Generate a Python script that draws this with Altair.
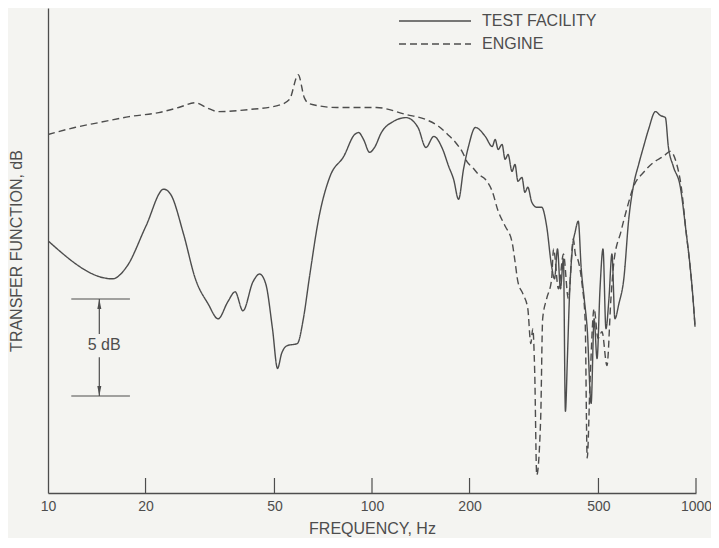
import altair as alt
import pandas as pd

# ---- data (frequency in Hz, level in dB, arbitrary zero) ----
tf_freq = [10.0, 15.8, 17.55, 20.06, 22.77, 23.9, 26.2, 28.5, 31.2, 33.5, 35.9, 37.8, 39.96, 42.9, 45.0, 47.0,
           49.3, 51.1, 52.6, 54.8, 58.8, 61.4, 64.0, 68.7, 74.2, 81.8, 88.4, 90.9, 94.2, 98.3, 101.8, 106.9,
           116.3, 127.4, 138.7, 146.7, 155.1, 165.3, 172.4, 178.6, 185.0, 191.6, 198.5, 208.5, 223.7, 235.0,
           240.0, 245.1, 252.0, 257.5, 263.0, 270.5, 276.2, 282.1, 290.2, 296.4, 302.6, 311.3, 322.4, 334.0,
           345.9, 358.3, 365.9, 373.7,
           381.6, 389.8, 395.3, 400.9, 406.6, 415.3, 424.2, 433.2, 442.4, 451.9, 461.5, 474.6, 484.7, 495.0,
           505.5, 516.4, 527.3, 538.6, 550.2, 561.9, 578.0, 598.7, 620.1, 642.3, 665.3, 689.1, 713.7, 749.8,
           776.7, 804.4, 821.5, 850.9, 893.7, 932.2, 958.7, 979.2, 993.0]
tf_db = [13.0, 11.04, 11.70, 13.76, 15.66, 15.4, 13.35, 11.04, 9.75, 8.98, 9.86, 10.37, 9.39, 10.88, 11.29, 10.78,
         8.47, 6.42, 7.19, 7.60, 7.70, 8.98, 11.04, 14.27, 16.32, 17.35, 18.48, 18.58, 18.22, 17.56, 17.81, 18.58,
         19.15, 19.35, 18.84, 17.81, 18.38, 17.71, 16.84, 16.17, 15.14, 16.68, 17.86, 18.84, 18.38, 17.86,
         18.22, 17.71, 17.97, 17.20, 17.45, 16.58, 16.94, 16.07, 16.27, 15.50, 15.76, 14.99, 14.73, 14.73,
         13.76, 11.70, 11.04, 12.58,
         10.52, 12.06, 4.21, 6.93, 10.01, 12.58, 13.50, 14.01, 11.55, 10.01, 8.47, 4.62, 8.98, 6.93,
         10.52, 12.58, 8.47, 10.01, 12.32, 8.98, 9.75, 11.04, 14.12, 15.91, 16.94, 17.86, 18.74, 19.66,
         19.46, 19.35, 17.86, 16.84, 15.81, 13.45, 11.70, 10.01, 8.57]

eng_freq = [10.0, 12.09, 14.41, 17.8, 21.98, 25.3, 28.5, 30.8, 33.5, 41.4,
            51.1, 55.6, 59.2, 61.8, 64.0, 77.9, 103.2, 127.4, 146.7, 160.8,
            171.3, 181.1, 190.3, 197.1, 204.2, 213.0, 223.7, 235.0, 245.1, 257.5,
            270.5, 276.2, 282.1, 292.2, 302.6, 309.1, 313.5, 317.9, 322.4, 331.6,
            336.3, 345.9, 358.3, 363.4, 376.3, 389.8, 403.7, 418.2, 424.2, 433.2, 445.6,
            455.0, 461.5, 471.3, 484.7, 498.5, 512.8, 531.1, 546.3, 557.9, 586.1,
            611.3, 642.3, 689.1, 739.3, 793.0, 833.0, 868.9, 900.0, 932.2, 958.7,
            979.2, 993.0]
eng_db = [18.48, 18.84, 19.10, 19.40, 19.61, 19.87, 20.12, 19.87, 19.66, 19.76,
          19.97, 20.28, 21.56, 20.38, 20.07, 19.87, 19.87, 19.51, 19.25, 18.89,
          18.48, 18.07, 17.56, 17.04, 16.79, 16.43, 16.17, 15.55, 14.53, 13.76,
          12.94, 11.96, 10.88, 10.27, 9.50, 7.70, 8.47, 6.16, 0.92, 3.85,
          8.98, 10.01, 11.00, 12.58, 10.52, 12.32, 10.01, 13.09, 12.32, 11.96, 10.68,
          8.83, 1.80, 5.90, 9.50, 7.96, 8.32, 6.57, 10.01, 11.91, 13.45,
          14.63, 15.81, 16.53, 17.04, 17.35, 17.61, 17.04, 15.81, 13.45, 11.70,
          10.01, 8.62]

series_names = ["TEST FACILITY", "ENGINE"]
x_ticks = [10, 20, 50, 100, 200, 500, 1000]

# 5 dB scale bar annotation
bar_f_left, bar_f_right, bar_f_arrow, bar_f_text = 11.8, 17.9, 14.4, 14.9
bar_db_low, bar_db_high = 5.0, 10.0
bar_shaft_top_end, bar_shaft_low_end = 8.2, 7.0
bar_text_db = 7.65
bar_label = "5 dB"

INK = "#4d4d4d"
FONT = "Liberation Sans"
W, H = 648, 485

df = pd.concat([
    pd.DataFrame({"freq": tf_freq, "db": tf_db, "series": series_names[0]}),
    pd.DataFrame({"freq": eng_freq, "db": eng_db, "series": series_names[1]}),
])

xscale = alt.Scale(type="log", domain=[10, 1000], nice=False)
yscale = alt.Scale(domain=[0, 25], nice=False, zero=False)

lines = alt.Chart(df).mark_line(strokeWidth=1.4, color=INK, clip=True, interpolate="monotone").encode(
    x=alt.X("freq:Q", scale=xscale,
            axis=alt.Axis(values=x_ticks, format="d", ticks=False, grid=False, title="FREQUENCY, Hz",
                          labelFontSize=14, titleFontSize=16, labelPadding=6, titlePadding=7,
                          labelFlush=False, labelOverlap=False)),
    y=alt.Y("db:Q", scale=yscale,
            axis=alt.Axis(labels=False, ticks=False, grid=False, title="TRANSFER FUNCTION, dB",
                          titleFontSize=16, titlePadding=24)),
    strokeDash=alt.StrokeDash("series:N",
                              scale=alt.Scale(domain=series_names, range=[[1, 0], [7, 4]]),
                              legend=alt.Legend(title=None, orient="none", legendX=374, legendY=0,
                                                symbolType="M-3,0L3,0", symbolSize=576,
                                                symbolStrokeWidth=1.3, symbolStrokeColor=INK,
                                                symbolFillColor="transparent",
                                                labelFontSize=16, labelOffset=34, rowPadding=2,
                                                padding=0)),
    detail="series:N",
)

ticks_df = pd.DataFrame({"freq": x_ticks[1:], "db": [0] * (len(x_ticks) - 1)})
tick_marks = alt.Chart(ticks_df).mark_rule(color=INK, strokeWidth=1.2).encode(
    x="freq:Q", y="db:Q", y2=alt.value(H - 15)
)

hbars = alt.Chart(pd.DataFrame({"f1": [bar_f_left] * 2, "f2": [bar_f_right] * 2,
                                "db": [bar_db_low, bar_db_high]})).mark_rule(color=INK, strokeWidth=1.2).encode(
    x="f1:Q", x2="f2:Q", y="db:Q"
)
shafts = alt.Chart(pd.DataFrame({"f": [bar_f_arrow] * 2, "a": [bar_db_high, bar_db_low],
                                 "b": [bar_shaft_top_end, bar_shaft_low_end]})).mark_rule(color=INK, strokeWidth=1.2).encode(
    x="f:Q", y="a:Q", y2="b:Q"
)
head_up = alt.Chart(pd.DataFrame({"f": [bar_f_arrow], "db": [bar_db_high]})).mark_point(
    shape="M0,-1L0.4,1L-0.4,1Z", size=100, filled=True, color=INK, opacity=1, yOffset=5
).encode(x="f:Q", y="db:Q")
head_down = alt.Chart(pd.DataFrame({"f": [bar_f_arrow], "db": [bar_db_low]})).mark_point(
    shape="M0,1L0.4,-1L-0.4,-1Z", size=100, filled=True, color=INK, opacity=1, yOffset=-5
).encode(x="f:Q", y="db:Q")
bar_text = alt.Chart(pd.DataFrame({"f": [bar_f_text], "db": [bar_text_db], "t": [bar_label]})).mark_text(
    fontSize=16, color=INK, font=FONT, baseline="middle", align="center"
).encode(x="f:Q", y="db:Q", text="t:N")

chart = alt.layer(lines, tick_marks, hbars, shafts, head_up, head_down, bar_text).properties(
    width=W, height=H,
    autosize=alt.AutoSizeParams(type="none"),
    padding={"left": 40, "top": 0, "right": 15, "bottom": 45},
    background="#f4f4f1",
).configure_view(stroke=None).configure_axis(
    domainColor=INK, domainWidth=1.3, labelColor=INK, titleColor=INK,
    labelFont=FONT, titleFont=FONT, titleFontWeight="normal",
).configure_legend(labelFont=FONT, labelColor=INK)

chart.save("out.html", embed_options={"renderer": "svg", "actions": False})
